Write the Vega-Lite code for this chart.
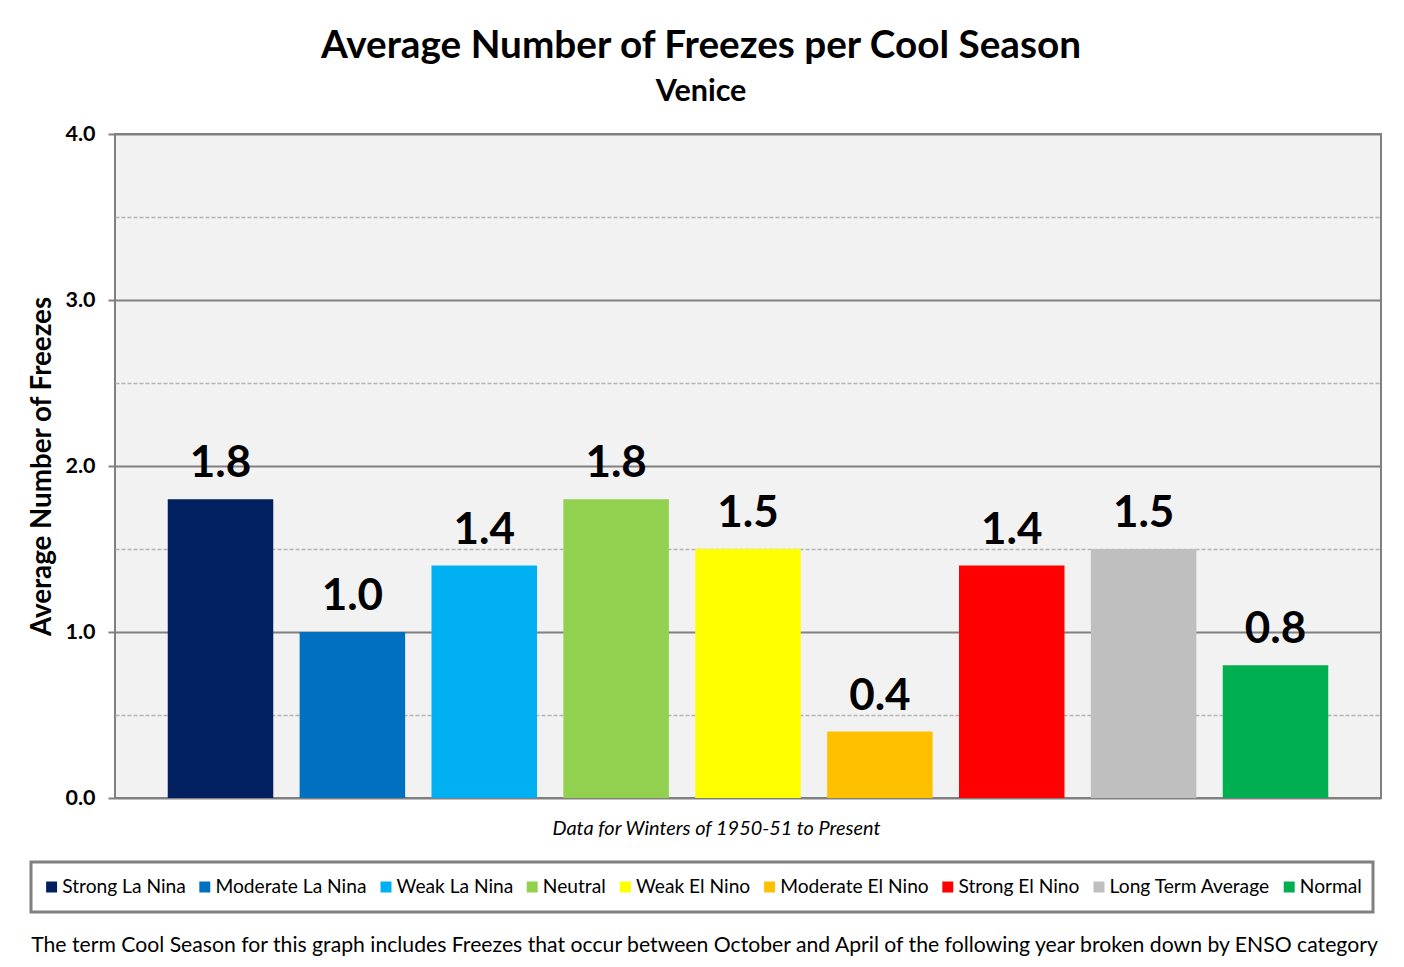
{
  "$schema": "https://vega.github.io/schema/vega-lite/v6.json",
  "width": 1266,
  "height": 664,
  "autosize": "none",
  "padding": {"left": 115, "top": 134, "right": 23, "bottom": 169},
  "background": "white",
  "title": {
    "text": "Average Number of Freezes per Cool Season",
    "subtitle": "Venice",
    "anchor": "middle",
    "frame": "group",
    "dx": -47,
    "offset": 16,
    "font": "Lato",
    "fontSize": 38.7,
    "fontWeight": "bold",
    "color": "black",
    "subtitleFont": "Lato",
    "subtitleFontSize": 30.5,
    "subtitleFontWeight": "bold",
    "subtitleColor": "black",
    "subtitlePadding": 11
  },
  "data": {
    "values": [
      {"category": "Strong La Nina", "freezes": 1.8},
      {"category": "Moderate La Nina", "freezes": 1.0},
      {"category": "Weak La Nina", "freezes": 1.4},
      {"category": "Neutral", "freezes": 1.8},
      {"category": "Weak El Nino", "freezes": 1.5},
      {"category": "Moderate El Nino", "freezes": 0.4},
      {"category": "Strong El Nino", "freezes": 1.4},
      {"category": "Long Term Average", "freezes": 1.5},
      {"category": "Normal", "freezes": 0.8}
    ]
  },
  "resolve": {"axis": {"x": "independent", "y": "independent"}},
  "layer": [
    {
      "mark": {"type": "bar"},
      "encoding": {
        "x": {
          "field": "category",
          "type": "nominal",
          "sort": null,
          "scale": {"paddingInner": 0.2, "paddingOuter": 0.4},
          "axis": {
            "orient": "bottom",
            "labels": false,
            "ticks": false,
            "domain": false,
            "title": "Data for Winters of 1950-51 to Present",
            "titleFont": "Lato",
            "titleFontSize": 19.9,
            "titleFontStyle": "italic",
            "titleFontWeight": "normal",
            "titleColor": "black",
            "titleX": 601,
            "titleY": 20,
            "titleAlign": "center"
          }
        },
        "y": {
          "field": "freezes",
          "type": "quantitative",
          "scale": {"domain": [0, 4], "nice": false},
          "axis": {
            "orient": "left",
            "values": [0, 1, 2, 3, 4],
            "format": ".1f",
            "grid": true,
            "gridColor": "#808080",
            "gridWidth": 2,
            "domain": false,
            "tickColor": "#808080",
            "tickWidth": 2,
            "tickSize": 7,
            "labelPadding": 13,
            "labelFont": "Lato",
            "labelFontSize": 21.5,
            "labelFontWeight": "bold",
            "labelColor": "black",
            "title": "Average  Number of Freezes",
            "titleFont": "Lato",
            "titleFontSize": 27.7,
            "titleFontWeight": "bold",
            "titleColor": "black",
            "titleX": -59,
            "titleY": 332,
            "titleAnchor": "middle"
          }
        },
        "color": {
          "field": "category",
          "type": "nominal",
          "scale": {
            "domain": ["Strong La Nina", "Moderate La Nina", "Weak La Nina", "Neutral", "Weak El Nino", "Moderate El Nino", "Strong El Nino", "Long Term Average", "Normal"],
            "range": ["#002060", "#0070C0", "#00B0F0", "#92D050", "#FFFF00", "#FFC000", "#FF0000", "#BFBFBF", "#00B050"]
          },
          "legend": {
            "title": null,
            "orient": "none",
            "legendX": -84,
            "legendY": 728,
            "columns": 9,
            "columnPadding": 9.2,
            "padding": 11,
            "clipHeight": 28,
            "fillColor": "white",
            "strokeColor": "#808080",
            "symbolType": "square",
            "symbolSize": 120,
            "symbolStrokeWidth": 0,
            "labelFont": "Lato",
            "labelFontSize": 19.2,
            "labelColor": "black",
            "labelLimit": 300,
            "labelOffset": 1
          }
        }
      }
    },
    {
      "mark": {"type": "text", "font": "Lato", "fontSize": 44, "fontWeight": "bold", "baseline": "alphabetic", "dy": -22, "color": "black"},
      "encoding": {
        "x": {
          "field": "category",
          "type": "nominal",
          "sort": null,
          "axis": {
            "orient": "bottom",
            "labels": false,
            "ticks": false,
            "domain": false,
            "title": "The term Cool Season for this graph includes Freezes that occur between October and April of the following year broken down by ENSO category",
            "titleFont": "Lato",
            "titleFontSize": 21.2,
            "titleFontWeight": "normal",
            "titleColor": "black",
            "titleX": 589,
            "titleY": 136,
            "titleAlign": "center"
          }
        },
        "y": {
          "field": "freezes",
          "type": "quantitative",
          "axis": {
            "orient": "left",
            "values": [0.5, 1.5, 2.5, 3.5],
            "grid": true,
            "gridColor": "#b3b3b3",
            "gridWidth": 1.5,
            "gridDash": [4, 2],
            "labels": false,
            "ticks": false,
            "domain": false,
            "title": null
          }
        },
        "text": {"field": "freezes", "type": "quantitative", "format": ".1f"}
      }
    }
  ],
  "config": {
    "view": {"fill": "#f2f2f2", "stroke": "#808080", "strokeWidth": 2},
    "axis": {"zindex": 0},
    "legend": {"strokeWidth": 3}
  }
}
